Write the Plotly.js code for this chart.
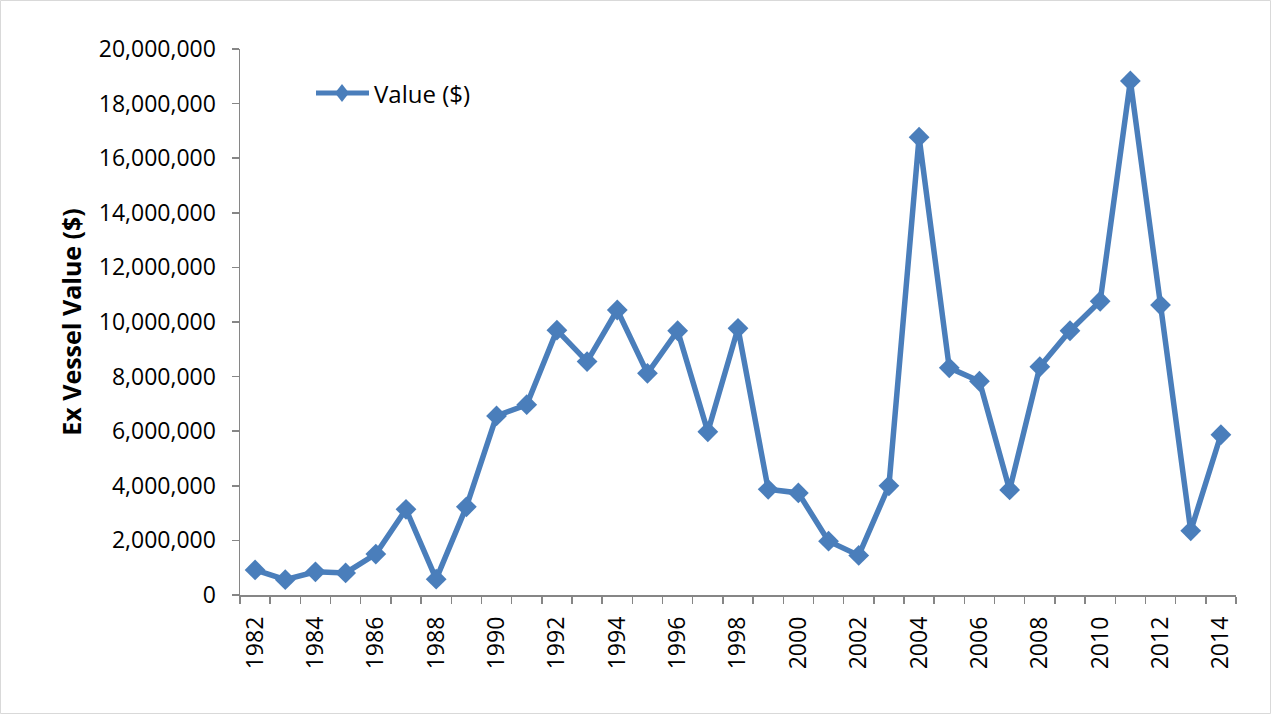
<!DOCTYPE html>
<html>
<head>
<meta charset="utf-8">
<script src="https://cdn.plot.ly/plotly-3.0.1.min.js"></script>
<style>body{margin:0;padding:0;background:#fff}#chart{width:1272px;height:715px}</style>
</head>
<body>
<div id="chart"></div>
<script>
const years = [1982,1983,1984,1985,1986,1987,1988,1989,1990,1991,1992,1993,1994,1995,1996,1997,1998,1999,2000,2001,2002,2003,2004,2005,2006,2007,2008,2009,2010,2011,2012,2013,2014];
const values = [920000,560000,850000,810000,1500000,3140000,580000,3230000,6560000,6970000,9700000,8550000,10440000,8120000,9680000,5980000,9770000,3870000,3740000,1970000,1450000,4000000,16770000,8320000,7830000,3850000,8360000,9680000,10760000,18830000,10620000,2350000,5870000];
const seriesName = 'Value ($)';
const yTitle = 'Ex Vessel Value ($)';

const L = 240, R = 36, T = 49, B = 120, W = 1272, H = 715;
const pw = W - L - R, ph = H - T - B;
const px = v => (v - L) / pw;          // pixel x -> paper x
const py = v => (H - B - v) / ph;      // pixel y -> paper y
const COLOR = '#4A7EBB';

const trace = {
  x: years, y: values, name: seriesName, type: 'scatter', mode: 'lines+markers',
  line: {color: COLOR, width: 5.5},
  marker: {symbol: 'diamond', size: 16, color: COLOR},
  showlegend: false
};

const legY = py(93);
const layout = {
  width: W, height: H,
  margin: {l: L, r: R, t: T, b: B, pad: 0},
  paper_bgcolor: '#fff', plot_bgcolor: '#fff',
  showlegend: false,
  xaxis: {
    type: 'linear', range: [1981.5, 2014.5],
    tickmode: 'linear', tick0: 1982, dtick: 2, ticks: '', ticklen: 0,
    tickangle: -90, tickfont: {family: 'Open Sans', size: 23, color: '#000'},
    ticklabelstandoff: 11,
    showline: true, linecolor: '#868686', linewidth: 1.5, showgrid: false, zeroline: false,
    minor: {tickmode: 'linear', tick0: 1981.5, dtick: 1, ticks: 'outside', ticklen: 7, tickcolor: '#868686', tickwidth: 1.5, showgrid: false},
    fixedrange: true
  },
  yaxis: {
    range: [0, 20000000], tickmode: 'linear', tick0: 0, dtick: 2000000,
    tickformat: ',d', ticks: 'outside', ticklen: 7, tickcolor: '#868686', tickwidth: 1.5,
    tickfont: {family: 'Open Sans', size: 23, color: '#000'},
    ticklabelstandoff: 11,
    showline: true, linecolor: '#868686', linewidth: 1.5, showgrid: false, zeroline: false,
    title: {text: yTitle, font: {family: 'Open Sans', size: 25, color: '#000', weight: 'bold'}, standoff: 10},
    fixedrange: true
  },
  shapes: [
    {
      type: 'rect', xref: 'paper', yref: 'paper',
      x0: px(0.5), x1: px(W - 1.5), y0: py(H - 1.5), y1: py(0.5),
      line: {color: '#D9D9D9', width: 1}, fillcolor: 'rgba(0,0,0,0)', layer: 'below'
    },
    {
      type: 'line', xref: 'paper', yref: 'paper',
      x0: px(316), x1: px(369), y0: legY, y1: legY,
      line: {color: COLOR, width: 5}
    },
    {
      type: 'path', xref: 'paper', yref: 'paper',
      xsizemode: 'pixel', ysizemode: 'pixel', xanchor: px(342), yanchor: legY,
      path: 'M0,9 L7,0 L0,-9 L-7,0 Z',
      line: {color: COLOR, width: 0}, fillcolor: COLOR
    }
  ],
  annotations: [{
    xref: 'paper', yref: 'paper', x: px(372), y: legY, xanchor: 'left', yanchor: 'middle',
    text: seriesName, showarrow: false, font: {family: 'Open Sans', size: 24, color: '#000'}
  }]
};

Plotly.newPlot('chart', [trace], layout, {displayModeBar: false, staticPlot: true});
</script>
</body>
</html>
